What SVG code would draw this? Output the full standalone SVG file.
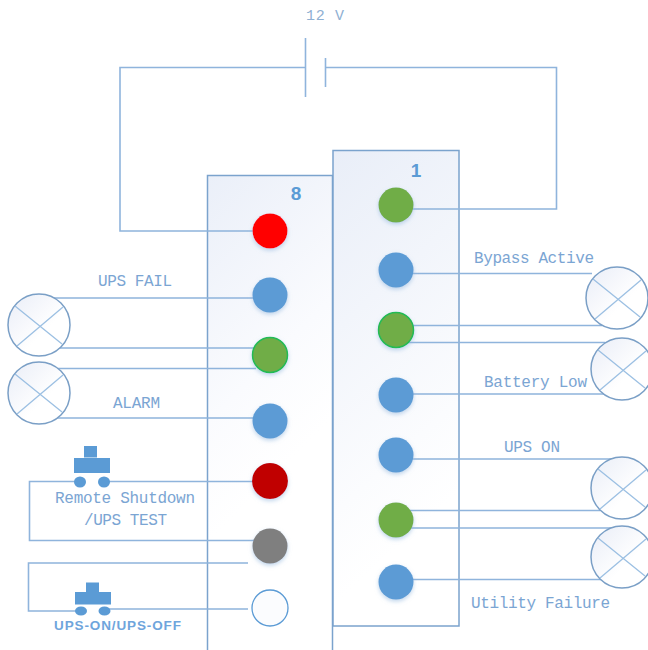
<svg xmlns="http://www.w3.org/2000/svg" width="648" height="650" viewBox="0 0 648 650">
<style>
.w{fill:none;stroke:#8fb4dc;stroke-width:1.6}
.p{fill:url(#pg);stroke:#7ba3cd;stroke-width:1.5}
.l{fill:url(#lg);stroke:#7a9fc6;stroke-width:1.5}
.x{fill:none;stroke:#9cc0e3;stroke-width:1.3}
.t{font-family:"Liberation Mono",monospace;font-size:16px;fill:#7ba5d3}
.b{fill:#5b9bd5}
.n{font-family:"Liberation Sans",sans-serif;font-size:19px;font-weight:bold;fill:#5b9bd5;text-anchor:middle}
</style>
<defs>
<linearGradient id="pg" gradientUnits="userSpaceOnUse" x1="0" y1="150" x2="300" y2="450"><stop offset="0" stop-color="#dfe6f4"/><stop offset="0.35" stop-color="#e9eef8"/><stop offset="0.8" stop-color="#fafbfe"/><stop offset="1" stop-color="#fff"/></linearGradient>
<linearGradient id="pg2" gradientUnits="userSpaceOnUse" x1="333" y1="150" x2="560" y2="400"><stop offset="0" stop-color="#e9eef8"/><stop offset="0.8" stop-color="#fbfcfe"/><stop offset="1" stop-color="#fff"/></linearGradient>
<linearGradient id="lg" x1="0" y1="0" x2="1" y2="1"><stop offset="0" stop-color="#e9edf7"/><stop offset="0.6" stop-color="#fff"/></linearGradient>
<filter id="s" x="-30%" y="-30%" width="160%" height="170%"><feDropShadow dx="0" dy="2" stdDeviation="2" flood-color="#8fb4dc" flood-opacity="0.55"/></filter>
<symbol id="lamp" overflow="visible"><circle class="l" cx="0" cy="0" r="31"/><path class="x" d="M-24-19L23 19M-22 21L24-18"/></symbol>
</defs>
<g id="panel-8"><rect class="p" x="207.500" y="175.500" width="125" height="480" style="fill:url(#pg)"/><text class="n" x="296" y="200">8</text></g>
<g id="panel-1"><rect class="p" x="333" y="150.500" width="126" height="475.500" style="fill:url(#pg2)"/><text class="n" x="416" y="177">1</text></g>
<g id="connectors">
<path class="w" d="M305 67.500H120V231H254"/>
<path class="w" d="M326 67.500H556.500V209H412"/>
<path class="w" d="M305.500 38V97M325.500 58V87"/>
<path class="w" d="M52 298H256M58 348H262M52 368.500H256M55 418H256"/>
<path class="w" d="M104 481.500H254M80 481.500H29.500V540.500H254"/>
<path class="w" d="M248 563H28.500V611H81M104 609H248"/>
<path class="w" d="M412 273.500H592M412 325.500H602M406 342.500H605M412 394H604M412 459H612M410 510.500H600M408 528H612M412 579.500H602"/>
</g>
<g id="lamp-1"><use href="#lamp" x="39" y="325"/></g>
<g id="lamp-2"><use href="#lamp" x="39" y="393"/></g>
<g id="lamp-3"><use href="#lamp" x="617" y="298"/></g>
<g id="lamp-4"><use href="#lamp" x="622" y="369"/></g>
<g id="lamp-5"><use href="#lamp" x="622" y="488"/></g>
<g id="lamp-6"><use href="#lamp" x="622" y="557"/></g>
<g id="switch-1"><rect class="b" x="84" y="446" width="13" height="11.500"/><rect class="b" x="74" y="458" width="36" height="15"/><ellipse class="b" cx="80" cy="482" rx="6" ry="5.500"/><ellipse class="b" cx="104" cy="482" rx="6" ry="5.500"/></g>
<g id="switch-2"><rect class="b" x="86" y="582.500" width="13" height="9.500"/><rect class="b" x="75" y="592" width="36" height="12.500"/><ellipse class="b" cx="81" cy="611" rx="6" ry="4.500"/><ellipse class="b" cx="104.500" cy="611" rx="6" ry="4.500"/></g>
<g id="led-8-1"><circle cx="270" cy="231" r="17.500" fill="#ff0000" filter="url(#s)"/></g>
<g id="led-8-2"><circle cx="270" cy="295" r="17.500" fill="#5b9bd5" filter="url(#s)"/></g>
<g id="led-8-3"><circle cx="270" cy="355" r="17.500" fill="#70ad47" stroke="#22bb55" stroke-width="1.500" filter="url(#s)"/></g>
<g id="led-8-4"><circle cx="270" cy="421" r="17.500" fill="#5b9bd5" filter="url(#s)"/></g>
<g id="led-8-5"><circle cx="270" cy="481" r="18" fill="#c00000" filter="url(#s)"/></g>
<g id="led-8-6"><circle cx="270" cy="546" r="17.500" fill="#7f7f7f" filter="url(#s)"/></g>
<g id="led-8-7"><circle cx="270" cy="608" r="18" fill="#fbfcfe" stroke="#5b9bd5" stroke-width="1.300"/></g>
<g id="led-1-1"><circle cx="396" cy="205" r="17.500" fill="#70ad47" filter="url(#s)"/></g>
<g id="led-1-2"><circle cx="396" cy="270" r="17.500" fill="#5b9bd5" filter="url(#s)"/></g>
<g id="led-1-3"><circle cx="396" cy="330" r="17.500" fill="#70ad47" stroke="#22bb55" stroke-width="1.500" filter="url(#s)"/></g>
<g id="led-1-4"><circle cx="396" cy="395" r="17.500" fill="#5b9bd5" filter="url(#s)"/></g>
<g id="led-1-5"><circle cx="396" cy="455" r="17.500" fill="#5b9bd5" filter="url(#s)"/></g>
<g id="led-1-6"><circle cx="396" cy="520" r="17.500" fill="#70ad47" filter="url(#s)"/></g>
<g id="led-1-7"><circle cx="396" cy="582" r="17.500" fill="#5b9bd5" filter="url(#s)"/></g>
<g id="labels">
<text class="t" x="306" y="20" textLength="38" style="font-size:15px;fill:#8fb0d3">12 V</text>
<text class="t" x="98" y="286" textLength="74">UPS FAIL</text>
<text class="t" x="113" y="408" textLength="47">ALARM</text>
<text class="t" x="55" y="503" textLength="140">Remote Shutdown</text>
<text class="t" x="84" y="525" textLength="83">/UPS TEST</text>
<text x="54" y="630" textLength="127" style="font-family:'Liberation Sans',sans-serif;font-size:13.500px;font-weight:bold;fill:#6fa5dc">UPS-ON/UPS-OFF</text>
<text class="t" x="474" y="263" textLength="120">Bypass Active</text>
<text class="t" x="484" y="387" textLength="103">Battery Low</text>
<text class="t" x="504" y="452" textLength="56">UPS ON</text>
<text class="t" x="471" y="608" textLength="139">Utility Failure</text>
</g>
</svg>
